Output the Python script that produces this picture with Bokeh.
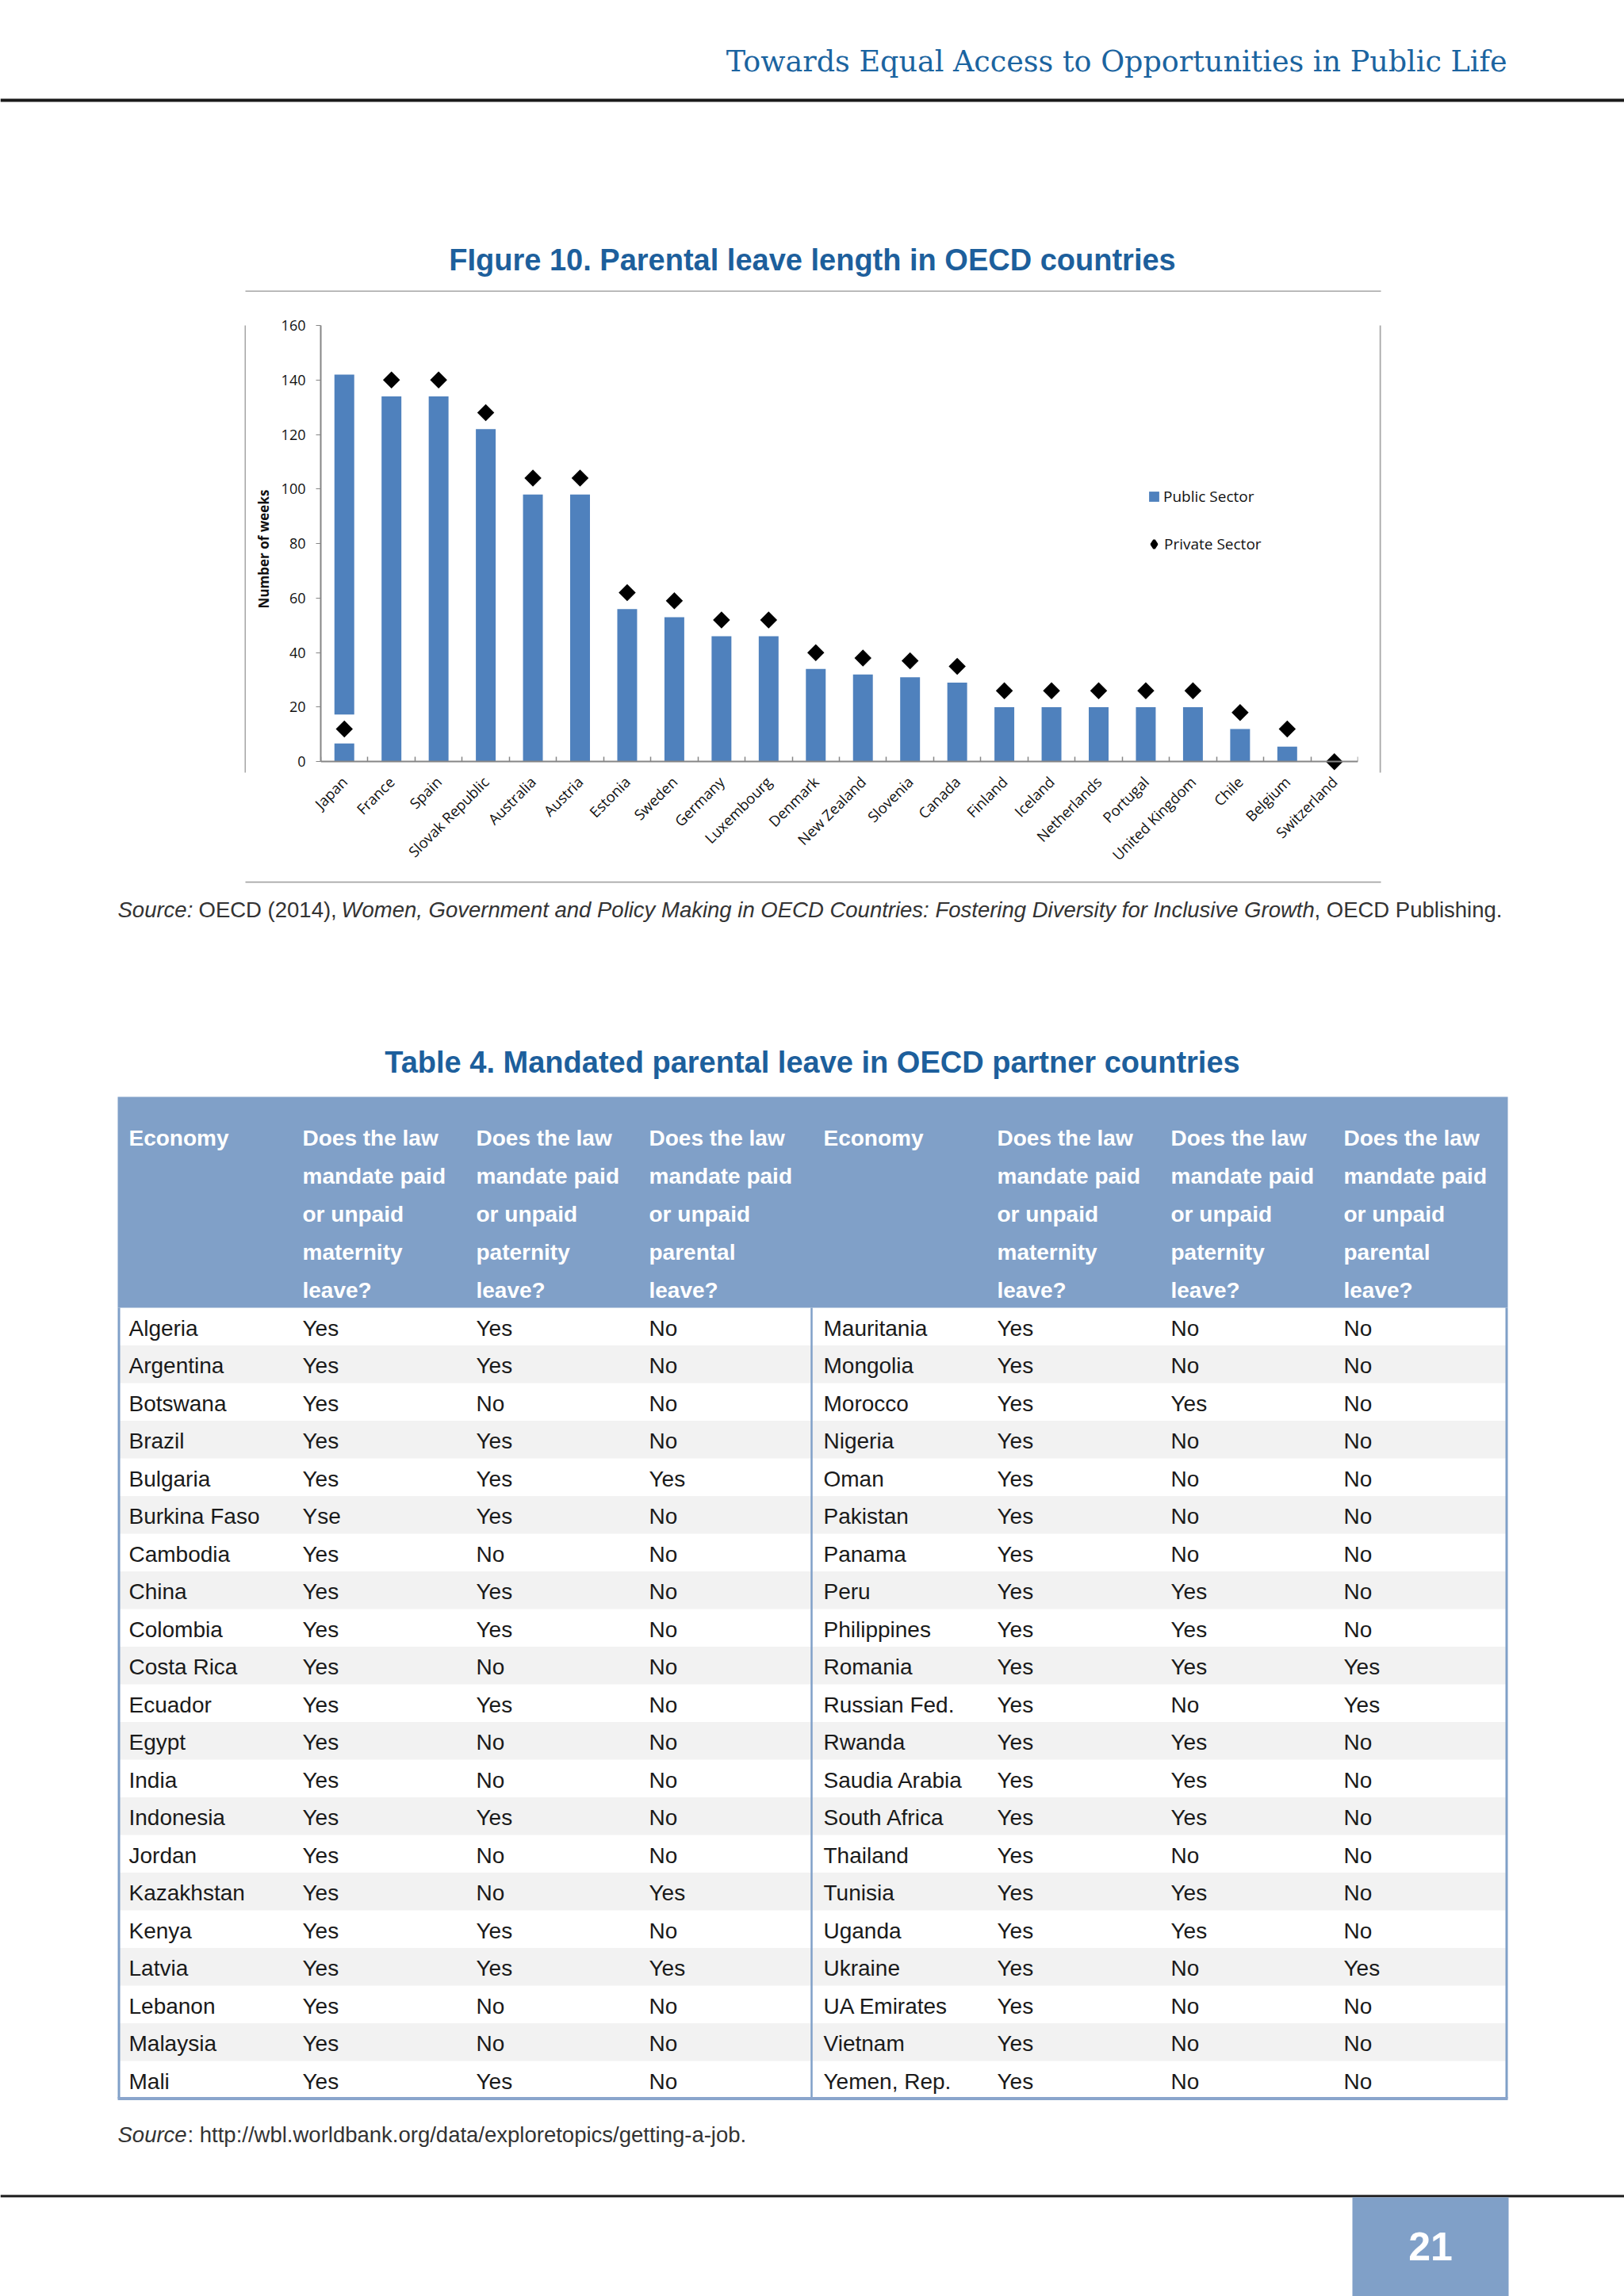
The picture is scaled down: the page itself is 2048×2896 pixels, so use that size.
import math
from bokeh.plotting import figure
from bokeh.models import ColumnDataSource, Range1d, FixedTicker, Legend, LegendItem, LinearAxis
from bokeh.layouts import column, row
from bokeh.core.properties import value
from bokeh.embed import file_html
from bokeh.resources import INLINE

# ---------------- data ----------------
countries = ["Japan", "France", "Spain", "Slovak Republic", "Australia", "Austria",
             "Estonia", "Sweden", "Germany", "Luxembourg", "Denmark", "New Zealand",
             "Slovenia", "Canada", "Finland", "Iceland", "Netherlands", "Portugal",
             "United Kingdom", "Chile", "Belgium", "Switzerland"]
public_weeks = [142, 134, 134, 122, 98, 98, 56, 53, 46, 46, 34, 32, 31, 29,
                20, 20, 20, 20, 20, 12, 5.5, 0]
private_weeks = [12, 140, 140, 128, 104, 104, 62, 59, 52, 52, 40, 38, 37, 35,
                 26, 26, 26, 26, 26, 18, 12, 0]
y_ticks = [0, 20, 40, 60, 80, 100, 120, 140, 160]

left_economy = ["Algeria", "Argentina", "Botswana", "Brazil", "Bulgaria", "Burkina Faso",
                "Cambodia", "China", "Colombia", "Costa Rica", "Ecuador", "Egypt", "India",
                "Indonesia", "Jordan", "Kazakhstan", "Kenya", "Latvia", "Lebanon",
                "Malaysia", "Mali"]
left_maternity = ["Yes", "Yes", "Yes", "Yes", "Yes", "Yse", "Yes", "Yes", "Yes", "Yes", "Yes",
                  "Yes", "Yes", "Yes", "Yes", "Yes", "Yes", "Yes", "Yes", "Yes", "Yes"]
left_paternity = ["Yes", "Yes", "No", "Yes", "Yes", "Yes", "No", "Yes", "Yes", "No", "Yes",
                  "No", "No", "Yes", "No", "No", "Yes", "Yes", "No", "No", "Yes"]
left_parental = ["No", "No", "No", "No", "Yes", "No", "No", "No", "No", "No", "No",
                 "No", "No", "No", "No", "Yes", "No", "Yes", "No", "No", "No"]

right_economy = ["Mauritania", "Mongolia", "Morocco", "Nigeria", "Oman", "Pakistan", "Panama",
                 "Peru", "Philippines", "Romania", "Russian Fed.", "Rwanda", "Saudia Arabia",
                 "South Africa", "Thailand", "Tunisia", "Uganda", "Ukraine", "UA Emirates",
                 "Vietnam", "Yemen, Rep."]
right_maternity = ["Yes"] * 21
right_paternity = ["No", "No", "Yes", "No", "No", "No", "No", "Yes", "Yes", "Yes", "No",
                   "Yes", "Yes", "Yes", "No", "Yes", "Yes", "No", "No", "No", "No"]
right_parental = ["No", "No", "No", "No", "No", "No", "No", "No", "No", "Yes", "Yes",
                  "No", "No", "No", "No", "No", "No", "Yes", "No", "No", "No"]

header_lines = ["Does the law", "mandate paid", "or unpaid"]
leave_kinds = ["maternity", "paternity", "parental"]

page_header = "Towards Equal Access to Opportunities in Public Life"
figure_title = "FIgure 10. Parental leave length in OECD countries"
table_title = "Table 4. Mandated parental leave in OECD partner countries"
fig_source = ["Source:", "OECD (2014),",
              "Women, Government and Policy Making in OECD Countries: Fostering Diversity for Inclusive Growth",
              ", OECD Publishing."]
tab_source = ["Source", ": http://wbl.worldbank.org/data/exploretopics/getting-a-job."]
page_number = "21"

# ---------------- styles ----------------
BLUE_TXT = "#1d5f9c"
BAR = "#4f81bd"
HEAD_BG = "#80a0c8"
ZEBRA = "#f2f2f2"
GRAY = "#868686"
BOX = "#a6a6a6"
SANS = "Liberation Sans"
CAL = "Open Sans"
PAGE_W, PAGE_H = 2048, 2896
TOP_H = 368          # page y where the chart box starts
CHART_BOT = 1111     # page y where the chart box ends
BOX_L, BOX_R = 310, 1739


def canvas(w, h, x0, x1, y_top, y_bottom):
    f = figure(width=w, height=h, x_range=Range1d(x0, x1), y_range=Range1d(y_bottom, y_top),
               output_backend="svg", toolbar_location=None, x_axis_location=None,
               y_axis_location=None, min_border=0, outline_line_color=None)
    f.grid.visible = False
    return f


def txt(f, x, y, t, size, color="#1a1a1a", font=SANS, style="normal", align="left",
        baseline="middle"):
    f.text(x=x, y=y, text=t, text_font=value(font), text_font_size=value(size),
           text_color=color, text_font_style=style, text_align=align,
           text_baseline=baseline)


# ---------------- top part ----------------
top = canvas(PAGE_W, TOP_H, 0, PAGE_W, 0, TOP_H)
txt(top, [1900], [77], [page_header], "36.5px", color="#1b64a0", font="DejaVu Serif",
    align="right", baseline="alphabetic")
top.segment(x0=[0], y0=[126], x1=[PAGE_W], y1=[126], line_color="#1a1a1a", line_width=4)
txt(top, [1024], [327], [figure_title], "38px", color=BLUE_TXT, style="bold", align="center")
top.segment(x0=[BOX_L - 1], y0=[367], x1=[BOX_R + 2], y1=[367], line_color=BOX, line_width=2)

# ---------------- chart ----------------
cat_x = list(range(len(countries)))
src = ColumnDataSource(dict(x=cat_x, public=public_weeks, private=private_weeks))
halo_idx = [i for i in cat_x if private_weeks[i] < public_weeks[i]]
halo_src = ColumnDataSource(dict(x=halo_idx, y=[private_weeks[i] for i in halo_idx]))

Y_MIN, Y_MAX = -4, 160
BAR_W = 0.42
p = figure(width=BOX_R - BOX_L, height=CHART_BOT - TOP_H,
           x_range=Range1d(-0.5, len(countries) - 0.5),
           y_range=Range1d(Y_MIN, Y_MAX), output_backend="svg", toolbar_location=None,
           min_border_left=94, min_border_right=27, min_border_top=42,
           min_border_bottom=137, outline_line_color=None)
p.grid.visible = False

bars = p.vbar(x="x", top="public", bottom=0, width=BAR_W, fill_color=BAR, line_color=None,
              source=src)
p.rect(x="x", y="y", width=BAR_W * 1.1, height=10.6, fill_color="white", line_color=None,
       source=halo_src)
# diamond-marker copy (hidden under the rotated squares) that provides the legend swatch
legend_dots = p.scatter(x="x", y="private", marker="diamond", size=16, fill_color="black",
                        line_color="black", line_width=3, source=src)
dots = p.scatter(x="x", y="private", marker="square", angle=math.pi / 4, size=15.2,
                 fill_color="black", line_color=None, source=src)

# labels axis (bottom)
xa = p.xaxis[0]
xa.ticker = FixedTicker(ticks=cat_x, minor_ticks=[])
xa.major_label_overrides = {i: c for i, c in enumerate(countries)}
xa.major_label_orientation = math.pi / 4
xa.major_tick_line_color = None
xa.minor_tick_line_color = None
xa.major_tick_in = 0
xa.major_tick_out = 0
xa.axis_line_color = None
xa.major_label_text_font = CAL
xa.major_label_text_font_size = "18.5px"
xa.major_label_text_color = "#111111"
xa.major_label_standoff = 8

# axis line at y = 0 with ticks between categories
x0axis = LinearAxis(fixed_location=0,
                    ticker=FixedTicker(ticks=[], minor_ticks=[i - 0.5 for i in range(len(countries) + 1)]))
x0axis.major_tick_line_color = None
x0axis.minor_tick_in = 0
x0axis.minor_tick_out = 6
x0axis.minor_tick_line_color = GRAY
x0axis.minor_tick_line_width = 1.5
x0axis.axis_line_color = GRAY
x0axis.axis_line_width = 2
x0axis.major_label_text_color = None
p.add_layout(x0axis, "above")

ya = p.yaxis[0]
ya.ticker = FixedTicker(ticks=y_ticks, minor_ticks=[])
ya.bounds = (0, Y_MAX)
ya.major_tick_out = 6
ya.major_tick_in = 0
ya.major_tick_line_color = GRAY
ya.minor_tick_line_color = None
ya.axis_line_color = GRAY
ya.axis_line_width = 2
ya.major_label_text_font = CAL
ya.major_label_text_font_size = "18px"
ya.major_label_text_color = "#111111"
ya.major_label_standoff = 13
ya.axis_label = "Number of weeks"
ya.axis_label_text_font = CAL
ya.axis_label_text_font_size = "17px"
ya.axis_label_text_font_style = "bold"
ya.axis_label_text_color = "#111111"
ya.axis_label_standoff = 8


def mk_legend(item, loc, gw, gh, standoff):
    lg = Legend(items=[item], location=loc, glyph_width=gw, glyph_height=gh,
                label_standoff=standoff, padding=0, margin=0, spacing=0,
                border_line_color=None, background_fill_alpha=0, label_height=gh,
                label_text_font=CAL, label_text_font_size="19px",
                label_text_color="#111111")
    p.add_layout(lg)


mk_legend(LegendItem(label=value("Public Sector"), renderers=[bars]), (1043, 335), 16, 16, 4)
mk_legend(LegendItem(label=value("Private Sector"), renderers=[legend_dots]), (1038, 275), 26, 26, 0)

left_panel = canvas(BOX_L, CHART_BOT - TOP_H, 0, BOX_L, TOP_H, CHART_BOT)
left_panel.segment(x0=[BOX_L - 1], y0=[TOP_H - 2], x1=[BOX_L - 1], y1=[CHART_BOT + 2],
                   line_color=BOX, line_width=2)
right_panel = canvas(PAGE_W - BOX_R, CHART_BOT - TOP_H, BOX_R, PAGE_W, TOP_H, CHART_BOT)
right_panel.segment(x0=[BOX_R + 1], y0=[TOP_H - 2], x1=[BOX_R + 1], y1=[CHART_BOT + 2],
                    line_color=BOX, line_width=2)

# ---------------- bottom part ----------------
bot = canvas(PAGE_W, PAGE_H - CHART_BOT, 0, PAGE_W, CHART_BOT, PAGE_H)
bot.segment(x0=[BOX_L - 1], y0=[CHART_BOT + 1], x1=[BOX_R + 2], y1=[CHART_BOT + 1],
            line_color=BOX, line_width=2)

SRC_COL = "#333333"
SRC_SIZE = "27.5px"
src_x = [148, 250, 430, 1657]
src_style = ["italic", "normal", "italic", "normal"]
for sx, st, s in zip(src_x, src_style, fig_source):
    txt(bot, [sx], [1147], [s], SRC_SIZE, color=SRC_COL, style=st)

txt(bot, [1024], [1339], [table_title], "38px", color=BLUE_TXT, style="bold", align="center")

# table geometry
T_L, T_R, T_TOP, H_BOT = 148, 1901, 1383, 1649
ROW_H = 47.5
n_rows = len(left_economy)
T_BOT = H_BOT + ROW_H * n_rows
col_x = [162, 381, 600, 818, 1038, 1257, 1476, 1694]

bot.quad(left=[T_L], right=[T_R], top=[T_TOP], bottom=[H_BOT], fill_color=HEAD_BG,
         line_color=None)
zebra_rows = [i for i in range(n_rows) if i % 2 == 1]
bot.quad(left=[T_L + 2] * len(zebra_rows), right=[T_R - 2] * len(zebra_rows),
         top=[H_BOT + ROW_H * i for i in zebra_rows],
         bottom=[H_BOT + ROW_H * (i + 1) for i in zebra_rows],
         fill_color=ZEBRA, line_color=None)
bot.segment(x0=[T_L + 1.5, T_R - 1.5, 1023], y0=[H_BOT] * 3,
            x1=[T_L + 1.5, T_R - 1.5, 1023], y1=[T_BOT] * 3, line_color=HEAD_BG,
            line_width=[3, 3, 2.5])
bot.segment(x0=[T_L], y0=[T_BOT], x1=[T_R], y1=[T_BOT], line_color="#8aa5cc", line_width=4)

# header text
hx, hy, ht = [], [], []
head_y = [1435, 1483, 1531, 1579, 1627]
for half in range(2):
    base = half * 4
    hx.append(col_x[base]); hy.append(head_y[0]); ht.append("Economy")
    for k, kind in enumerate(leave_kinds):
        lines = header_lines + [kind, "leave?"]
        for j, ln in enumerate(lines):
            hx.append(col_x[base + 1 + k]); hy.append(head_y[j]); ht.append(ln)
txt(bot, hx, hy, ht, "28px", color="white", style="bold")

# body text
bx, by, bt = [], [], []
cols = [left_economy, left_maternity, left_paternity, left_parental,
        right_economy, right_maternity, right_paternity, right_parental]
for c, vals in enumerate(cols):
    for i, v in enumerate(vals):
        bx.append(col_x[c]); by.append(H_BOT + ROW_H * (i + 0.5) + 2); bt.append(v)
txt(bot, bx, by, bt, "28px", color="#1a1a1a")

txt(bot, [148], [2692], [tab_source[0]], SRC_SIZE, color=SRC_COL, style="italic")
txt(bot, [236], [2692], [tab_source[1]], SRC_SIZE, color=SRC_COL)

# footer
bot.segment(x0=[0], y0=[2769.5], x1=[PAGE_W], y1=[2769.5], line_color="#1a1a1a", line_width=3)
bot.quad(left=[1705], right=[1902], top=[2771], bottom=[PAGE_H], fill_color=HEAD_BG,
         line_color=None)
txt(bot, [1803.5], [2833], [page_number], "50px", color="white", style="bold", align="center")

layout = column(top, row(left_panel, p, right_panel, spacing=0), bot, spacing=0)
open("out.html", "w").write(file_html(layout, INLINE))
